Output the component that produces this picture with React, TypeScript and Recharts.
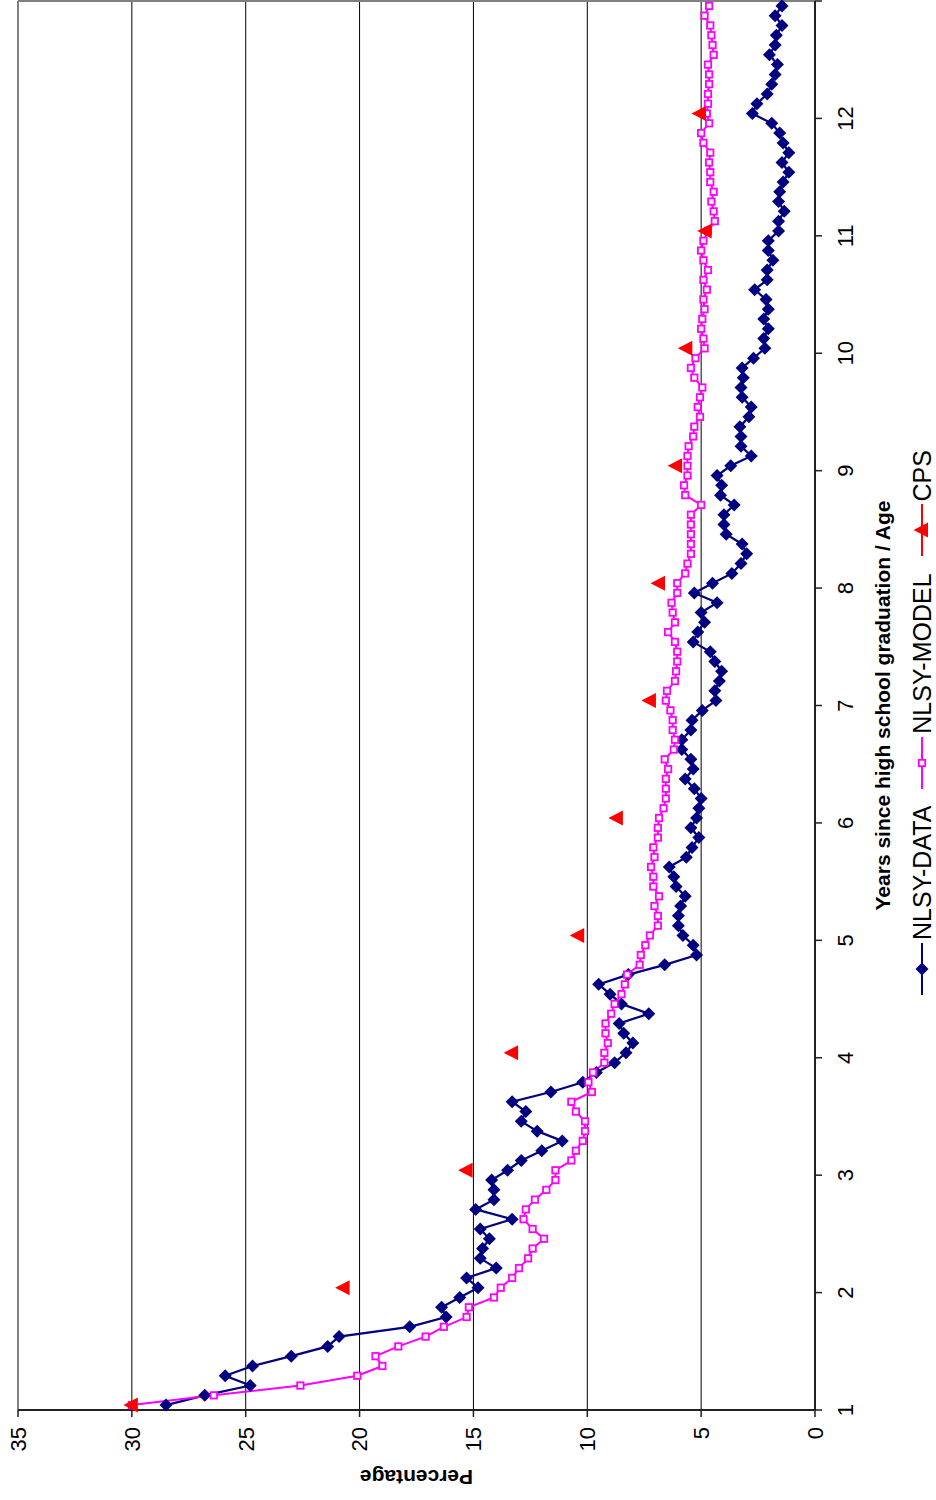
import React from "react";
import { LineChart, Line, XAxis, YAxis, CartesianGrid, ReferenceLine } from "recharts";

// monthly values, one row per year since graduation
const nlsyData = [
  28.5, 26.8, 24.8, 25.9, 24.7, 23.0, 21.4, 20.9, 17.8, 16.2, 16.4, 15.6,
  14.8, 15.3, 14.0, 14.7, 14.6, 14.3, 14.7, 13.3, 14.9, 14.1, 14.1, 14.2,
  13.5, 12.9, 12.0, 11.1, 12.2, 12.9, 12.7, 13.3, 11.6, 10.2, 9.6, 8.8,
  8.3, 8.0, 8.4, 8.6, 7.3, 8.5, 9.0, 9.5, 8.2, 6.6, 5.2, 5.35,
  5.8, 6.0, 6.0, 5.9, 5.7, 6.1, 6.2, 6.4, 5.65, 5.4, 5.1, 5.45,
  5.2, 5.1, 5.0, 5.3, 5.7, 5.35, 5.45, 5.85, 5.85, 5.45, 5.4, 4.95,
  4.35, 4.4, 4.2, 4.1, 4.4, 4.6, 5.35, 5.15, 4.85, 5.0, 4.3, 5.3,
  4.5, 3.65, 3.25, 3.0, 3.2, 3.9, 4.0, 4.0, 3.55, 4.15, 4.1, 4.3,
  3.7, 2.8, 3.25, 3.25, 3.3, 2.9, 2.8, 3.2, 3.25, 3.15, 3.2, 2.7,
  2.2, 2.25, 2.05, 2.25, 2.05, 2.15, 2.65, 2.1, 2.1, 1.85, 2.05, 2.05,
  1.6, 1.6, 1.35, 1.6, 1.55, 1.4, 1.15, 1.45, 1.15, 1.4, 1.55, 1.9,
  2.75, 2.55, 2.1, 1.9, 1.75, 1.65, 2.0, 1.75, 1.7, 1.45, 1.75, 1.45,
];

const nlsyModel = [
  30.0, 26.4, 22.6, 20.1, 19.0, 19.3, 18.3, 17.1, 16.3, 15.3, 15.2, 14.1,
  13.8, 13.3, 13.0, 12.6, 12.4, 11.9, 12.4, 12.8, 12.7, 12.3, 11.8, 11.4,
  11.4, 10.7, 10.5, 10.2, 10.1, 10.1, 10.5, 10.7, 9.8, 9.95, 9.75, 9.25,
  9.25, 9.1, 9.2, 9.2, 8.95, 8.8, 8.5, 8.35, 8.25, 7.7, 7.65, 7.45,
  7.25, 6.9, 6.9, 7.05, 6.85, 7.1, 7.1, 7.2, 7.05, 7.1, 6.9, 6.9,
  6.85, 6.65, 6.55, 6.55, 6.55, 6.45, 6.6, 6.2, 6.15, 6.25, 6.25, 6.35,
  6.55, 6.5, 6.15, 6.1, 6.05, 6.05, 6.15, 6.45, 6.15, 6.25, 6.3, 6.05,
  6.05, 5.7, 5.6, 5.45, 5.45, 5.45, 5.45, 5.45, 5.0, 5.7, 5.75, 5.6,
  5.6, 5.6, 5.55, 5.35, 5.3, 5.05, 5.15, 5.05, 4.95, 5.3, 5.45, 5.25,
  4.85, 4.9, 5.0, 4.95, 4.85, 4.9, 4.75, 4.9, 4.7, 4.9, 5.0, 4.9,
  4.7, 4.4, 4.45, 4.55, 4.45, 4.6, 4.6, 4.65, 4.6, 4.9, 5.0, 4.65,
  4.75, 4.7, 4.7, 4.65, 4.65, 4.7, 4.45, 4.5, 4.55, 4.6, 4.85, 4.65,
];

// one value per year (first month of each year)
const cps = [30.0, 20.7, 15.3, 13.3, 10.4, 8.7, 7.25, 6.85, 6.1, 5.65, 4.8, 5.05];

const yearTicks = [1, 2, 3, 4, 5, 6, 7, 8, 9, 10, 11, 12, 13];
const pctTicks = [0, 5, 10, 15, 20, 25, 30, 35];

const rows = nlsyData.map((v, i) => ({
  t: 1 + (i + 0.5) / 12,
  data: v,
  model: nlsyModel[i],
  cps: i % 12 === 0 ? cps[i / 12] : null,
}));

const NAVY = "#000080";
const PINK = "#FF00FF";
const RED = "#FF0000";
const FONT = "'Liberation Sans', Arial, sans-serif";

// chart is drawn landscape, then turned a quarter to the left
const W = 1500;
const H = 936;
const MARGIN = { top: 18, right: 1, bottom: 0, left: 0 };
const Y_AXIS_W = 90;
const X_AXIS_H = 121;
const PLOT_L = MARGIN.left + Y_AXIS_W;
const PLOT_R = W - MARGIN.right;
const PLOT_T = MARGIN.top;
const PLOT_B = H - MARGIN.bottom - X_AXIS_H;

const Diamond = (p: any) => {
  const { cx, cy } = p;
  if (cx == null || cy == null) return <g key={p.key} />;
  const r = 6.5;
  return (
    <polygon
      key={p.key}
      points={`${cx},${cy - r} ${cx + r},${cy} ${cx},${cy + r} ${cx - r},${cy}`}
      fill={NAVY}
    />
  );
};

const Square = (p: any) => {
  const { cx, cy } = p;
  if (cx == null || cy == null) return <g key={p.key} />;
  return (
    <rect key={p.key} x={cx - 3.2} y={cy - 3.2} width={6.4} height={6.4} fill="#fff" stroke={PINK} strokeWidth={1.8} />
  );
};

const Triangle = (p: any) => {
  const { cx, cy } = p;
  if (cx == null || cy == null) return <g key={p.key} />;
  return (
    <polygon key={p.key} points={`${cx},${cy - 8.5} ${cx + 7.5},${cy + 6} ${cx - 7.5},${cy + 6}`} fill={RED} />
  );
};

const xTitle = () => (
  <text
    x={(PLOT_L + PLOT_R) / 2}
    y={PLOT_B + 74.5}
    textAnchor="middle"
    fontFamily={FONT}
    fontSize={21}
    fontWeight="bold"
    fill="#000"
  >
    Years since high school graduation / Age
  </text>
);

const yTitle = () => {
  const cx = 30;
  const cy = (PLOT_T + PLOT_B) / 2;
  return (
    <text
      x={cx}
      y={cy}
      transform={`rotate(-90 ${cx} ${cy})`}
      textAnchor="middle"
      fontFamily={FONT}
      fontSize={21}
      fontWeight="bold"
      fill="#000"
    >
      Percentage
    </text>
  );
};

const KEY_W = 52;

function LegendKey({ color, marker }: { color: string; marker: "diamond" | "square" | "triangle" }) {
  const m = KEY_W / 2;
  return (
    <svg width={KEY_W} height={20} style={{ display: "block" }}>
      <line x1={0} y1={10} x2={KEY_W} y2={10} stroke={color} strokeWidth={2} />
      {marker === "diamond" && <polygon points={`${m},3.5 ${m + 6.5},10 ${m},16.5 ${m - 6.5},10`} fill={color} />}
      {marker === "square" && (
        <rect x={m - 3.2} y={6.8} width={6.4} height={6.4} fill="#fff" stroke={color} strokeWidth={1.8} />
      )}
      {marker === "triangle" && <polygon points={`${m},1.5 ${m + 7.5},16 ${m - 7.5},16`} fill={color} />}
    </svg>
  );
}

const legendItems = [
  { name: "NLSY-DATA", color: NAVY, marker: "diamond" as const },
  { name: "NLSY-MODEL", color: PINK, marker: "square" as const },
  { name: "CPS", color: RED, marker: "triangle" as const },
];

export default function App() {
  return (
    <div
      style={{
        position: "absolute",
        left: 0,
        top: 0,
        width: W,
        height: H,
        background: "#fff",
        fontFamily: FONT,
        transform: `translateY(${W}px) rotate(-90deg)`,
        transformOrigin: "0 0",
      }}
    >
      <LineChart width={W} height={H} data={rows} margin={MARGIN}>
        <CartesianGrid vertical={false} stroke="#000" strokeWidth={1} />
        <XAxis
          type="number"
          dataKey="t"
          domain={[1, 13]}
          ticks={yearTicks}
          tickFormatter={(v: number) => (v === 13 ? "" : String(v))}
          height={X_AXIS_H}
          axisLine={{ stroke: "#222", strokeWidth: 2 }}
          tickLine={{ stroke: "#222", strokeWidth: 1.5 }}
          tickSize={7}
          tickMargin={15}
          tick={{ fill: "#000", fontSize: 22, fontFamily: FONT }}
          label={xTitle}
          interval={0}
        />
        <YAxis
          type="number"
          domain={[0, 35]}
          ticks={pctTicks}
          width={Y_AXIS_W}
          axisLine={{ stroke: "#222", strokeWidth: 2 }}
          tickLine={{ stroke: "#222", strokeWidth: 1.5 }}
          tickSize={7}
          tickMargin={10}
          tick={{ fill: "#000", fontSize: 22, fontFamily: FONT }}
          label={yTitle}
          interval={0}
        />
        <ReferenceLine y={35} stroke="#808080" strokeWidth={2} />
        <ReferenceLine x={13} stroke="#808080" strokeWidth={2} />
        <Line
          dataKey="data"
          name="NLSY-DATA"
          stroke={NAVY}
          strokeWidth={2.25}
          dot={Diamond}
          activeDot={false}
          isAnimationActive={false}
        />
        <Line
          dataKey="model"
          name="NLSY-MODEL"
          stroke={PINK}
          strokeWidth={2}
          dot={Square}
          activeDot={false}
          isAnimationActive={false}
        />
        <Line
          dataKey="cps"
          name="CPS"
          stroke="none"
          strokeWidth={0}
          dot={Triangle}
          activeDot={false}
          isAnimationActive={false}
        />
      </LineChart>
      <div
        style={{
          position: "absolute",
          left: 505,
          top: 908,
          height: 28,
          display: "flex",
          alignItems: "center",
          fontSize: 25,
          color: "#000",
        }}
      >
        {legendItems.map((it) => (
          <div key={it.name} style={{ display: "flex", alignItems: "center", marginRight: 17 }}>
            <LegendKey color={it.color} marker={it.marker} />
            <span style={{ marginLeft: 3, whiteSpace: "nowrap" }}>{it.name}</span>
          </div>
        ))}
      </div>
    </div>
  );
}
